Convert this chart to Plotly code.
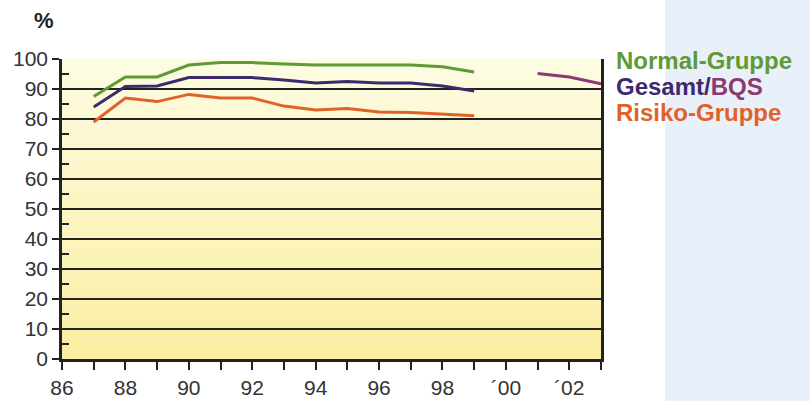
import plotly.graph_objects as go

# ---- data ----
years = [1987, 1988, 1989, 1990, 1991, 1992, 1993, 1994, 1995, 1996, 1997, 1998, 1999]
normal_gruppe = [87.5, 94.0, 94.0, 98.0, 98.8, 98.8, 98.3, 98.0, 98.0, 98.0, 98.0, 97.4, 95.7]
gesamt = [84.0, 90.8, 91.0, 93.8, 93.8, 93.8, 93.0, 92.0, 92.5, 92.0, 92.0, 91.0, 89.3]
risiko_gruppe = [79.0, 87.0, 85.8, 88.2, 87.0, 87.0, 84.3, 83.0, 83.5, 82.3, 82.2, 81.6, 81.1]
bqs_years = [2001, 2002, 2003]
bqs = [95.2, 94.0, 91.7]

x_tickvals = list(range(1986, 2004))
x_ticktext = ["86", "", "88", "", "90", "", "92", "", "94", "", "96", "", "98", "", "´00", "", "´02", ""]
y_tickvals = list(range(0, 101, 10))

C_NORMAL = "#5e9a36"
C_GESAMT = "#3d2a6e"
C_BQS = "#8a3a70"
C_RISIKO = "#e0622a"
FONT = "Liberation Sans, Arial, sans-serif"

fig = go.Figure()
for xs, ys, col in [(years, normal_gruppe, C_NORMAL), (years, gesamt, C_GESAMT),
                    (years, risiko_gruppe, C_RISIKO), (bqs_years, bqs, C_BQS)]:
    fig.add_trace(go.Scatter(x=xs, y=ys, mode="lines", line=dict(color=col, width=3),
                             showlegend=False, hoverinfo="skip"))

shapes = []
# light blue panel on the right
shapes.append(dict(type="rect", xref="paper", yref="paper", x0=1.119, x1=1.45, y0=-0.2, y1=1.25,
                   fillcolor="#e9f0fa", line=dict(width=0), layer="below"))
# yellow gradient background of the plot area
n = 40
top = (253, 251, 226)
bot = (250, 238, 160)
for i in range(n):
    t = (i + 0.5) / n
    c = tuple(round(top[k] + (bot[k] - top[k]) * t) for k in range(3))
    shapes.append(dict(type="rect", xref="x domain", yref="y domain", x0=0, x1=1,
                       y0=1 - (i + 1) / n, y1=1 - i / n + 0.001,
                       fillcolor="rgb(%d,%d,%d)" % c, line=dict(width=0), layer="below"))

annotations = [
    dict(text="<b>%</b>", xref="paper", yref="paper", x=-0.033, y=1.127, xanchor="center",
         yanchor="middle", showarrow=False, font=dict(size=22, color="#222", family=FONT)),
    dict(text="<b>Normal-Gruppe</b>", xref="paper", yref="paper", x=1.024, y=0.995,
         xanchor="left", yanchor="middle", showarrow=False,
         font=dict(size=24, color=C_NORMAL, family=FONT)),
    dict(text="<b><span style='color:%s'>Gesamt/</span><span style='color:%s'>BQS</span></b>" % (C_GESAMT, C_BQS),
         xref="paper", yref="paper", x=1.024, y=0.908,
         xanchor="left", yanchor="middle", showarrow=False,
         font=dict(size=24, color=C_GESAMT, family=FONT)),
    dict(text="<b>Risiko-Gruppe</b>", xref="paper", yref="paper", x=1.024, y=0.821,
         xanchor="left", yanchor="middle", showarrow=False,
         font=dict(size=24, color=C_RISIKO, family=FONT)),
]

fig.update_layout(
    width=810, height=401,
    margin=dict(l=62, r=209, t=59, b=42, autoexpand=False),
    paper_bgcolor="white", plot_bgcolor="rgba(0,0,0,0)",
    shapes=shapes, annotations=annotations,
    font=dict(family=FONT, color="#333"),
)
fig.update_xaxes(range=[1986, 2003], tickmode="array", tickvals=x_tickvals, ticktext=x_ticktext,
                 ticks="outside", ticklen=8, tickwidth=2, tickcolor="#222", automargin=False,
                 showline=True, linecolor="#222", linewidth=2.5, showgrid=False, zeroline=False,
                 tickfont=dict(size=21, color="#333", family=FONT))
fig.update_yaxes(range=[0, 100], tickmode="array", tickvals=y_tickvals, automargin=False,
                 ticks="outside", ticklen=7, tickwidth=2, tickcolor="#222",
                 showline=True, linecolor="#222", linewidth=2.5, mirror=True,
                 showgrid=True, gridcolor="#222", gridwidth=2, zeroline=False,
                 minor=dict(tickvals=list(range(5, 100, 10)), ticks="inside", ticklen=7,
                            tickwidth=2, tickcolor="#222", showgrid=False),
                 tickfont=dict(size=21, color="#333", family=FONT))

fig.write_html("out.html", config={"displayModeBar": False},
               post_script="document.body.style.margin='0';document.body.style.overflow='hidden';")
